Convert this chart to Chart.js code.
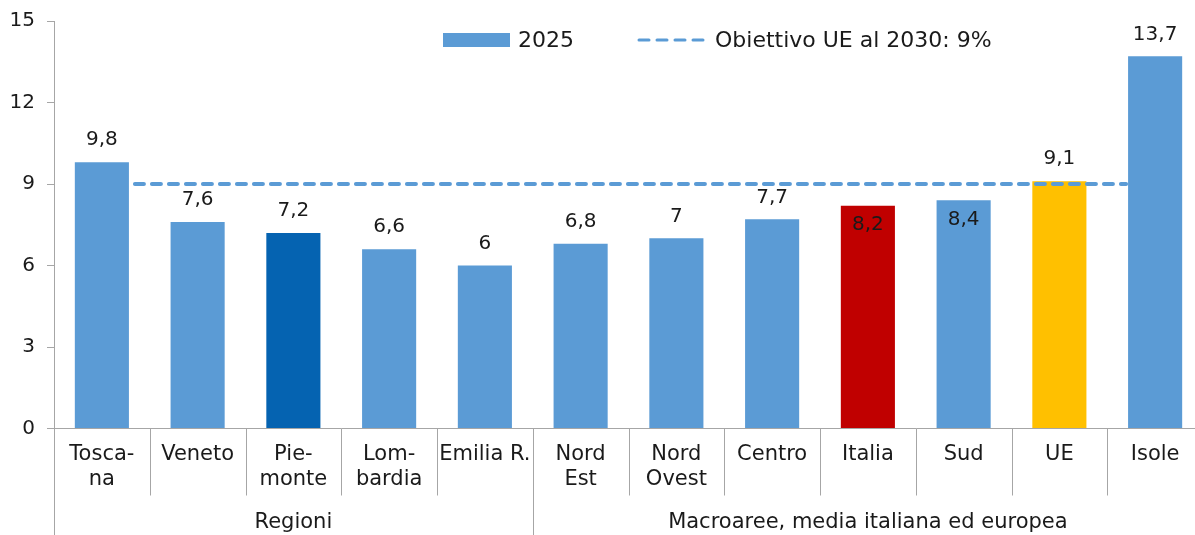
<!DOCTYPE html>
<html>
<head>
<meta charset="utf-8">
<script src="https://cdn.jsdelivr.net/npm/chart.js@4.4.1/dist/chart.umd.min.js"></script>
<style>
  html, body { margin: 0; padding: 0; background: #fff; overflow: hidden; }
  #wrap { width: 1203px; height: 535px; }
</style>
</head>
<body>
<div id="wrap"><canvas id="chart" width="1203" height="535"></canvas></div>
<script>
// data
const categories = [['Tosca-', 'na'], 'Veneto', ['Pie-', 'monte'], ['Lom-', 'bardia'], 'Emilia R.',
  ['Nord', 'Est'], ['Nord', 'Ovest'], 'Centro', 'Italia', 'Sud', 'UE', 'Isole'];
const values2025 = [9.8, 7.6, 7.2, 6.6, 6, 6.8, 7, 7.7, 8.2, 8.4, 9.1, 13.7];
const groups = ['Regioni', 'Macroaree, media italiana ed europea'];
const groupSizes = [5, 7];
const yTicks = [0, 3, 6, 9, 12, 15];
const target = 9;
const seriesLabel = '2025';
const targetLabel = 'Obiettivo UE al 2030: 9%';

// styling
const FONT = '"DejaVu Sans", sans-serif';
const TEXT = '#1a1a1a';
const AXIS = '#a6a6a6';
const BLUE = '#5b9bd5';
const highlight = { 2: '#0563b1', 8: '#c00000', 10: '#ffc000' }; // Piemonte, Italia, UE
const insideLabels = [8, 9]; // Italia, Sud: value written inside the bar

const fmt = v => String(v).replace('.', ',');

const decorations = {
  id: 'decorations',
  afterDatasetsDraw(chart) {
    const { ctx, scales: { y } } = chart;
    const bars = chart.getDatasetMeta(0).data;
    const first = bars[0], last = bars[bars.length - 1];
    const ty = y.getPixelForValue(target);

    ctx.save();
    ctx.strokeStyle = BLUE;
    ctx.lineWidth = 4;
    ctx.lineCap = 'round';
    ctx.setLineDash([9, 8]);
    ctx.beginPath();
    ctx.moveTo(first.x + first.width / 2 + 6, ty);
    ctx.lineTo(last.x - last.width / 2 - 2, ty);
    ctx.stroke();
    ctx.setLineDash([]);

    ctx.font = '20px ' + FONT;
    ctx.fillStyle = TEXT;
    ctx.textAlign = 'center';
    ctx.textBaseline = 'middle';
    bars.forEach((bar, i) => {
      const yy = insideLabels.includes(i) ? bar.y + 19 : bar.y - 22;
      ctx.fillText(fmt(values2025[i]), bar.x, yy);
    });
    ctx.restore();
  },
  afterDraw(chart) {
    const { ctx, chartArea, scales: { x } } = chart;
    const base = chartArea.bottom;
    const step = (x.right - x.left) / categories.length;
    const groupEdges = [0];
    groupSizes.forEach(n => groupEdges.push(groupEdges[groupEdges.length - 1] + n));

    ctx.save();
    ctx.strokeStyle = AXIS;
    ctx.lineWidth = 1;
    for (let i = 0; i <= categories.length; i++) {
      const px = Math.round(x.left + i * step) + 0.5;
      const end = groupEdges.includes(i) ? chart.height : base + 67;
      ctx.beginPath();
      ctx.moveTo(px, base);
      ctx.lineTo(px, end);
      ctx.stroke();
    }

    ctx.font = '21px ' + FONT;
    ctx.fillStyle = TEXT;
    ctx.textAlign = 'center';
    ctx.textBaseline = 'middle';
    groups.forEach((g, i) => {
      const cx = x.left + (groupEdges[i] + groupEdges[i + 1]) / 2 * step;
      ctx.fillText(g, cx, base + 94);
    });

    // legend
    ctx.font = '22px ' + FONT;
    ctx.textAlign = 'left';
    const ly = 40;
    let lx = 443;
    ctx.fillStyle = BLUE;
    ctx.fillRect(lx, ly - 7, 67, 14);
    lx += 75;
    ctx.fillStyle = TEXT;
    ctx.fillText(seriesLabel, lx, ly + 1);
    lx = 637;
    ctx.strokeStyle = BLUE;
    ctx.lineWidth = 3;
    ctx.lineCap = 'round';
    ctx.setLineDash([10, 8]);
    ctx.beginPath();
    ctx.moveTo(lx + 2, ly);
    ctx.lineTo(lx + 68, ly);
    ctx.stroke();
    ctx.setLineDash([]);
    ctx.fillText(targetLabel, 715, ly + 1);
    ctx.restore();
  }
};

new Chart(document.getElementById('chart'), {
  type: 'bar',
  data: {
    labels: categories,
    datasets: [{
      label: seriesLabel,
      data: values2025,
      backgroundColor: values2025.map((_, i) => highlight[i] || BLUE),
      categoryPercentage: 1,
      barPercentage: 0.565
    }]
  },
  options: {
    responsive: false,
    animation: false,
    layout: { padding: { top: 21, left: 0, right: 0, bottom: 0 } },
    plugins: { legend: { display: false }, tooltip: { enabled: false } },
    scales: {
      x: {
        offset: true,
        grid: { display: false, drawTicks: false },
        border: { display: true, color: AXIS, width: 1 },
        ticks: { color: TEXT, font: { family: FONT, size: 21 }, lineHeight: 1.3, padding: 13, maxRotation: 0, autoSkip: false },
        afterFit: s => { s.height = 106.5; }
      },
      y: {
        min: 0,
        max: 15,
        afterBuildTicks: s => { s.ticks = yTicks.map(v => ({ value: v })); },
        grid: { drawOnChartArea: false, drawTicks: true, tickLength: 7, color: AXIS },
        border: { display: true, color: AXIS, width: 1 },
        ticks: { color: TEXT, font: { family: FONT, size: 20 }, padding: 12 },
        afterFit: s => { s.width = 54; s.paddingTop = 0; s.paddingBottom = 0; }
      }
    }
  },
  plugins: [decorations]
});
</script>
</body>
</html>
